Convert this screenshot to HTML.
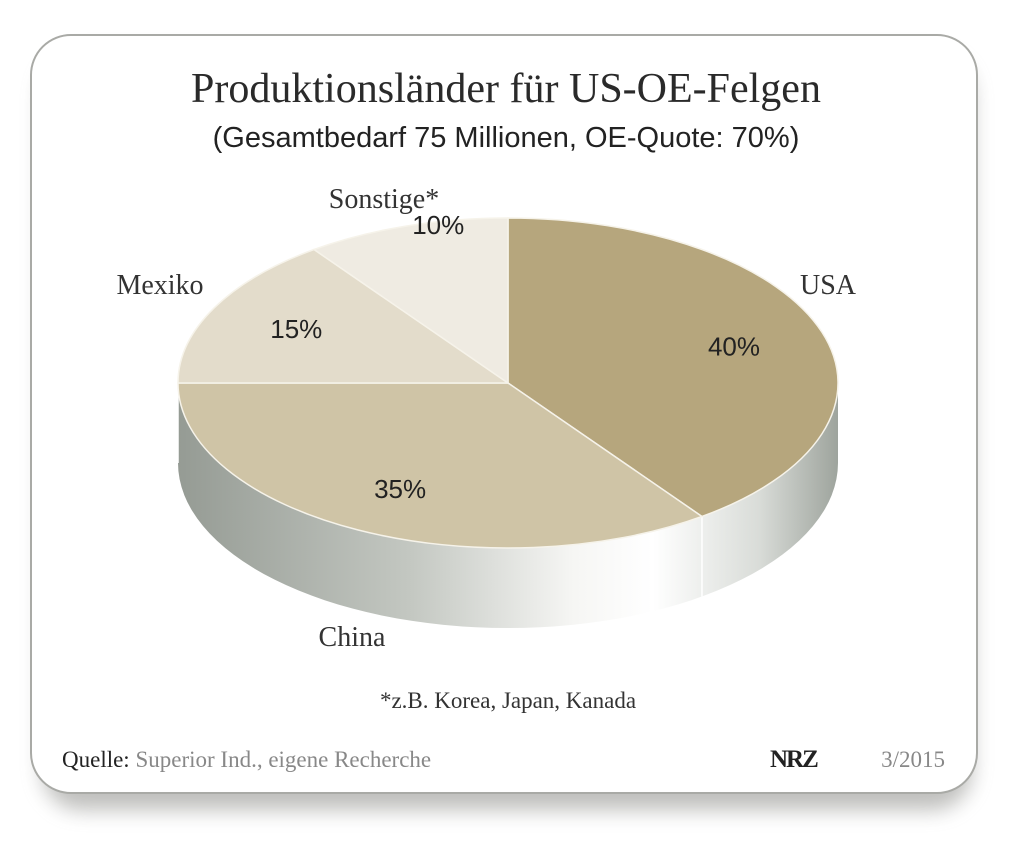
<!DOCTYPE html>
<html><head><meta charset="utf-8"><style>
body{margin:0;width:1024px;height:845px;background:#fff;overflow:hidden;font-family:"Liberation Sans",sans-serif}
</style></head><body>
<svg width="1024" height="845" viewBox="0 0 1024 845">
<defs>
<filter id="sh" x="-10%" y="-10%" width="120%" height="130%"><feGaussianBlur stdDeviation="10"/></filter>
<linearGradient id="side" gradientUnits="userSpaceOnUse" x1="178" y1="0" x2="838" y2="0">
<stop offset="0" stop-color="#959b94"/><stop offset="0.35" stop-color="#c3c7c1"/><stop offset="0.6" stop-color="#f6f6f4"/><stop offset="0.72" stop-color="#ffffff"/><stop offset="0.88" stop-color="#d9dcd8"/><stop offset="1" stop-color="#9ea49d"/>
</linearGradient>
</defs>
<rect x="42" y="55" width="930" height="755" rx="40" fill="#8a8a86" opacity="0.55" filter="url(#sh)"/>
<rect x="31" y="35" width="946" height="758" rx="40" fill="#fff" stroke="#a9aaa6" stroke-width="2"/>
<text x="506" y="102" text-anchor="middle" font-family="Liberation Serif" font-size="42" fill="#2a2a2a">Produktionsländer für US-OE-Felgen</text>
<text x="506" y="147" text-anchor="middle" font-size="29" fill="#222">(Gesamtbedarf 75 Millionen, OE-Quote: 70%)</text>
<g id="pie"></g>
<text x="508" y="708" text-anchor="middle" font-family="Liberation Serif" font-size="23" fill="#333">*z.B. Korea, Japan, Kanada</text>
<text x="62" y="767" font-family="Liberation Serif" font-size="23" fill="#222">Quelle: <tspan fill="#888">Superior Ind., eigene Recherche</tspan></text>
<text x="770" y="767" font-family="Liberation Serif" font-size="25" font-weight="bold" fill="#222" letter-spacing="-2">NRZ</text>
<text x="945" y="767" text-anchor="end" font-family="Liberation Serif" font-size="23" fill="#888">3/2015</text>
</svg>
<script>
const categories=["USA","China","Mexiko","Sonstige*"];
const values=[40,35,15,10];
const labels=["40%","35%","15%","10%"];
const colors=["#b6a67d","#cfc4a6","#e3dccb","#efebe2"];
const cx=508,cy=383,rx=330,ry=165,depth=80;
const NS="http://www.w3.org/2000/svg";
const g=document.getElementById('pie');
function pt(t,dy){return [cx+rx*Math.sin(t),cy-ry*Math.cos(t)+(dy||0)];}
const total=values.reduce((a,b)=>a+b,0);
// side
const side=document.createElementNS(NS,'path');
side.setAttribute('d',`M${cx-rx},${cy} A${rx},${ry} 0 0 0 ${cx+rx},${cy} L${cx+rx},${cy+depth} A${rx},${ry} 0 0 1 ${cx-rx},${cy+depth} Z`);
side.setAttribute('fill','url(#side)');


g.appendChild(side);
let acc=0;
values.forEach((v,i)=>{
  const a0=acc/total*2*Math.PI; acc+=v; const a1=acc/total*2*Math.PI;
  // side seam lines on visible front
  if(Math.cos(a1)<0&&i<values.length-1){const p=pt(a1);const l=document.createElementNS(NS,'line');
    l.setAttribute('x1',p[0]);l.setAttribute('y1',p[1]);l.setAttribute('x2',p[0]);l.setAttribute('y2',p[1]+depth);
    l.setAttribute('stroke','#fff');l.setAttribute('stroke-width','1.5');
    
    
    g.appendChild(l);}
  const p0=pt(a0),p1=pt(a1);const large=(a1-a0)>Math.PI?1:0;
  const s=document.createElementNS(NS,'path');
  s.setAttribute('d',`M${cx},${cy} L${p0[0]},${p0[1]} A${rx},${ry} 0 ${large} 1 ${p1[0]},${p1[1]} Z`);
  s.setAttribute('fill',colors[i]);s.setAttribute('stroke','#f6f3ea');s.setAttribute('stroke-width','1.5');
  
  
  g.appendChild(s);
});
// labels
acc=0;
const pctR=0.72, nameR=[1.05,1.28,1.12,1.22];
values.forEach((v,i)=>{
  const am=(acc+v/2)/total*2*Math.PI; acc+=v;
  const t=document.createElementNS(NS,'text');
  const p=[cx+rx*pctR*Math.sin(am)*(i==3?0.95:1),cy-ry*pctR*Math.cos(am)*(i==3?1.4:1)];
  t.setAttribute('x',p[0]);t.setAttribute('y',p[1]+9);t.setAttribute('text-anchor','middle');
  t.setAttribute('font-size','26');t.setAttribute('fill','#222');t.textContent=labels[i];
  
  
  g.appendChild(t);
});
const namePos=[[828,294],[352,646],[160,294],[384,208]];
categories.forEach((c,i)=>{
  const t=document.createElementNS(NS,'text');
  t.setAttribute('x',namePos[i][0]);t.setAttribute('y',namePos[i][1]);t.setAttribute('text-anchor','middle');
  t.setAttribute('font-family','Liberation Serif');t.setAttribute('font-size','28');t.setAttribute('fill','#333');
  t.textContent=c;
  
  
  g.appendChild(t);
});
</script>
</body></html>
